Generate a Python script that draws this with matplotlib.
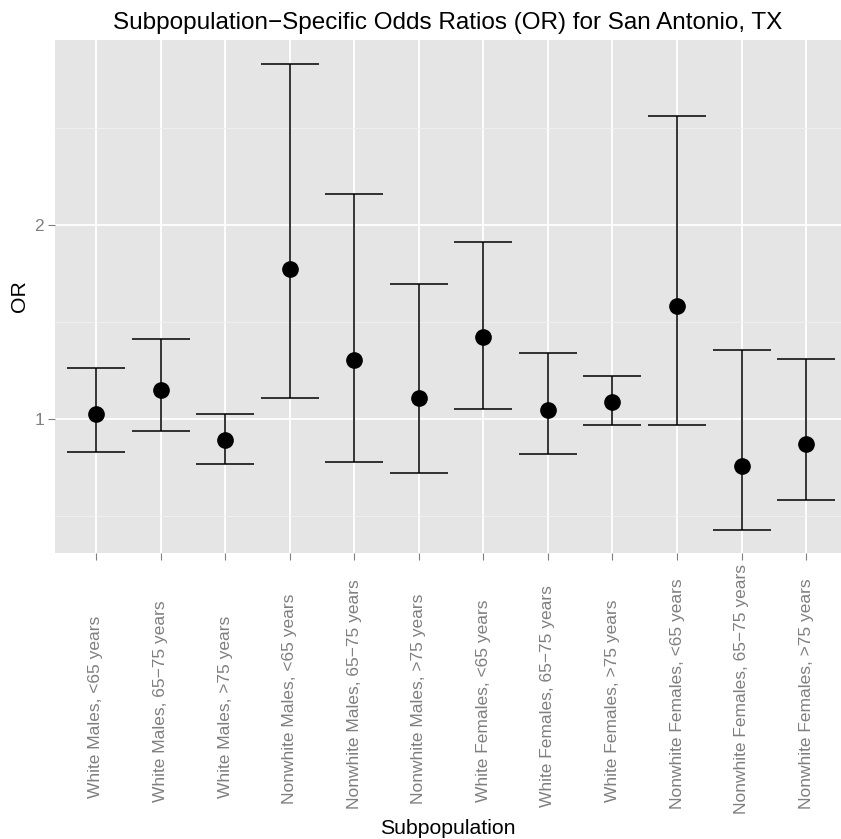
import matplotlib
matplotlib.use("Agg")
import matplotlib.pyplot as plt
from matplotlib.ticker import FixedLocator
from matplotlib.transforms import blended_transform_factory

plt.rcParams['font.family'] = ['Liberation Sans', 'DejaVu Sans']

categories = [
    "White Males, <65 years",
    "White Males, 65\u221275 years",
    "White Males, >75 years",
    "Nonwhite Males, <65 years",
    "Nonwhite Males, 65\u221275 years",
    "Nonwhite Males, >75 years",
    "White Females, <65 years",
    "White Females, 65\u221275 years",
    "White Females, >75 years",
    "Nonwhite Females, <65 years",
    "Nonwhite Females, 65\u221275 years",
    "Nonwhite Females, >75 years",
]
odds_ratio = [1.026, 1.151, 0.892, 1.773, 1.304, 1.111, 1.424, 1.050, 1.088, 1.582, 0.759, 0.873]
ci_lower = [0.833, 0.940, 0.770, 1.111, 0.781, 0.725, 1.055, 0.821, 0.973, 0.973, 0.429, 0.586]
ci_upper = [1.263, 1.414, 1.029, 2.833, 2.163, 1.697, 1.916, 1.340, 1.223, 2.565, 1.357, 1.312]

W, H = 841, 839
fig = plt.figure(figsize=(W / 100, H / 100), dpi=100)
left, right, top, bottom = 55, 841, 40, 553
ax = fig.add_axes([left / W, (H - bottom) / H, (right - left) / W, (bottom - top) / H])

ax.set_facecolor('#E5E5E5')
for s in ax.spines.values():
    s.set_visible(False)

x = list(range(1, len(categories) + 1))
ax.set_xlim(0.365, 12.54)
ax.set_ylim(0.311, 2.955)

ax.yaxis.set_major_locator(FixedLocator([1, 2]))
ax.yaxis.set_minor_locator(FixedLocator([0.5, 1.5, 2.5]))
ax.set_xticks(x)
ax.set_xticklabels([])

ax.grid(which='major', color='white', linewidth=1.3)
ax.grid(which='minor', axis='y', color='#F2F2F2', linewidth=0.6)
ax.set_axisbelow(True)

ax.tick_params(axis='both', which='major', color='#7F7F7F', length=5, width=0.8,
               labelcolor='#7F7F7F', labelsize=12.5)
ax.tick_params(axis='y', which='minor', length=0)
ax.tick_params(axis='y', pad=3)

# rotated category labels, start of each label shifted with its length
trans = blended_transform_factory(ax.transData, ax.transAxes)
renderer = fig.canvas.get_renderer()
span = bottom - top
for xi, name in zip(x, categories):
    t = ax.text(xi, 0, name, rotation=90, rotation_mode='anchor',
                ha='left', va='center', fontsize=12.5, color='#7F7F7F',
                transform=trans, clip_on=False)
    length = t.get_window_extent(renderer).height
    start_px = 797 + 0.24 * (length - 180)
    t.set_y((bottom - start_px) / span)

# confidence intervals
yerr = [[o - l for o, l in zip(odds_ratio, ci_lower)],
        [u - o for o, u in zip(odds_ratio, ci_upper)]]
ax.errorbar(x, odds_ratio, yerr=yerr, fmt='none', ecolor='black',
            elinewidth=1.1, capsize=21, capthick=1.1, zorder=3)
ax.plot(x, odds_ratio, 'o', color='black', markersize=11, zorder=4)

ax.set_title("Subpopulation\u2212Specific Odds Ratios (OR) for San Antonio, TX",
             fontsize=17.5, pad=8)
ax.set_ylabel("OR", fontsize=15.3, va='center')
ax.set_xlabel("Subpopulation", fontsize=15.3, va='center')
ax.xaxis.set_label_coords(0.5, (bottom - 828) / span)
ax.yaxis.set_label_coords((20 - left) / (right - left), 0.5)

fig.savefig("out.png", dpi=100)
